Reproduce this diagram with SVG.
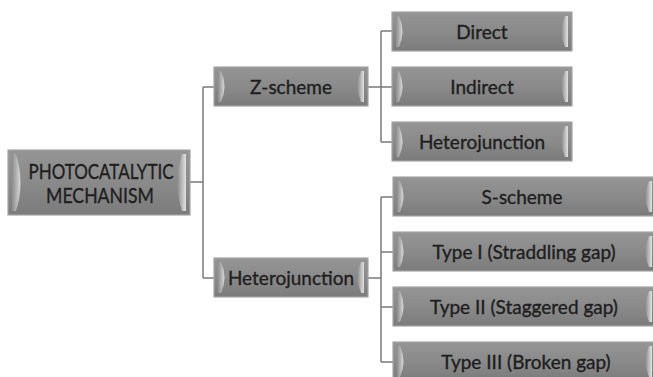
<svg xmlns="http://www.w3.org/2000/svg" width="653" height="377" viewBox="0 0 653 377">
<defs>
<linearGradient id="body" x1="0" y1="0" x2="0" y2="1">
<stop offset="0" stop-color="#959595"/>
<stop offset="0.5" stop-color="#8a8a8a"/>
<stop offset="1" stop-color="#7b7b7b"/>
</linearGradient>
<linearGradient id="bevL" x1="0" y1="0" x2="1" y2="0">
<stop offset="0" stop-color="#8c8c8c"/>
<stop offset="1" stop-color="#d8d8d8"/>
</linearGradient>
<linearGradient id="bevR" x1="0" y1="0" x2="1" y2="0">
<stop offset="0" stop-color="#8e8e8e"/>
<stop offset="1" stop-color="#e2e2e2"/>
</linearGradient>
</defs>
<style>
.box{fill:url(#body);stroke:#a6a6a6;stroke-width:1.2}
.bl{fill:url(#bevL);stroke:none}
.br{fill:url(#bevR);stroke:none}
.t{font-family:Lato,"Liberation Sans",sans-serif;font-size:19px;fill:#1e1e1e;stroke:#1e1e1e;stroke-width:0.35;text-anchor:middle;dominant-baseline:central}
.big{font-size:20.5px}
.c{fill:none;stroke:#7a7a7a;stroke-width:1.5}
</style>
<rect width="653" height="377" fill="#fff"/>
<g id="connectors">
<path class="c" d="M190,182H203M203,87V278M203,87H214M203,278H214"/>
<path class="c" d="M368,87H381M381,31V142M381,31H392M381,87H392M381,142H392"/>
<path class="c" d="M368,278H381M381,197V362M381,197H393M381,252H393M381,307H393M381,362H393"/>
</g>
<g id="root">
<rect class="box" x="8" y="150" width="182" height="65"/>
<path class="bl" d="M12,154H16Q25,182.5 16,211H12Z"/>
<path class="br" d="M186,154H182Q173,182.5 182,211H186Z"/>
<text class="t big" x="101" y="171" textLength="145" lengthAdjust="spacingAndGlyphs">PHOTOCATALYTIC</text>
<text class="t big" x="100" y="194.5" textLength="108" lengthAdjust="spacingAndGlyphs">MECHANISM</text>
</g>
<g id="zscheme">
<rect class="box" x="214" y="67" width="154" height="39"/>
<path class="bl" d="M218,71H221Q228,86.5 221,102H218Z"/>
<path class="br" d="M364,71H361Q354,86.5 361,102H364Z"/>
<text class="t" x="291" y="86.5">Z-scheme</text>
</g>
<g id="heterojunction">
<rect class="box" x="214" y="258" width="154" height="39"/>
<path class="bl" d="M218,262H221Q228,277.5 221,293H218Z"/>
<path class="br" d="M364,262H361Q354,277.5 361,293H364Z"/>
<text class="t" x="291" y="277.5">Heterojunction</text>
</g>
<g id="direct">
<rect class="box" x="392" y="12" width="180" height="39"/>
<path class="bl" d="M396,16H399Q406,31.5 399,47H396Z"/>
<path class="br" d="M568,16H565Q558,31.5 565,47H568Z"/>
<text class="t" x="482" y="31.5">Direct</text>
</g>
<g id="indirect">
<rect class="box" x="392" y="67" width="180" height="39"/>
<path class="bl" d="M396,71H399Q406,86.5 399,102H396Z"/>
<path class="br" d="M568,71H565Q558,86.5 565,102H568Z"/>
<text class="t" x="482" y="86.5">Indirect</text>
</g>
<g id="heterojunction2">
<rect class="box" x="392" y="122" width="180" height="39"/>
<path class="bl" d="M396,126H399Q406,141.5 399,157H396Z"/>
<path class="br" d="M568,126H565Q558,141.5 565,157H568Z"/>
<text class="t" x="482" y="141.5">Heterojunction</text>
</g>
<g id="sscheme">
<rect class="box" x="393" y="177" width="263" height="39"/>
<path class="bl" d="M397,181H400Q407,196.5 400,212H397Z"/>
<path class="br" d="M652,181H649Q642,196.5 649,212H652Z"/>
<text class="t" x="522" y="196.5">S-scheme</text>
</g>
<g id="type1">
<rect class="box" x="393" y="232" width="263" height="39"/>
<path class="bl" d="M397,236H400Q407,251.5 400,267H397Z"/>
<path class="br" d="M652,236H649Q642,251.5 649,267H652Z"/>
<text class="t" x="524" y="251.5">Type I (Straddling gap)</text>
</g>
<g id="type2">
<rect class="box" x="393" y="287" width="263" height="39"/>
<path class="bl" d="M397,291H400Q407,306.5 400,322H397Z"/>
<path class="br" d="M652,291H649Q642,306.5 649,322H652Z"/>
<text class="t" x="524" y="306.5">Type II (Staggered gap)</text>
</g>
<g id="type3">
<rect class="box" x="393" y="342" width="263" height="39"/>
<path class="bl" d="M397,346H400Q407,361.5 400,377H397Z"/>
<path class="br" d="M652,346H649Q642,361.5 649,377H652Z"/>
<text class="t" x="526" y="361.5">Type III (Broken gap)</text>
</g>
</svg>
